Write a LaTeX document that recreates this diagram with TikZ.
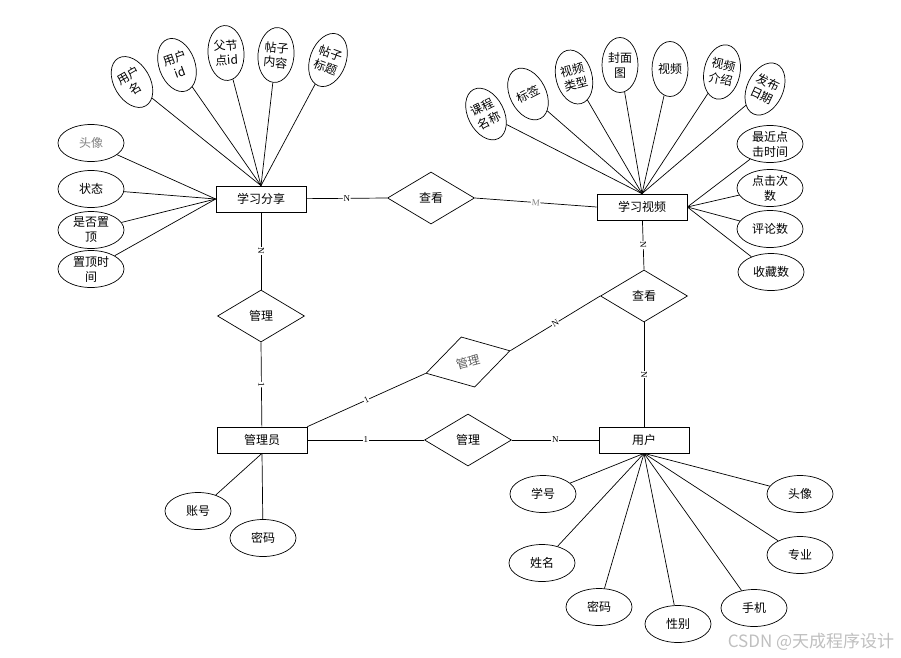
\documentclass[tikz,border=0pt]{standalone}
\usepackage{fontspec}
\setmainfont{Noto Sans CJK SC}
\newfontfamily\cardfont{Liberation Serif}
\usetikzlibrary{shapes.geometric}

\begin{document}
\begin{tikzpicture}[x=1pt, y=-1pt,
        line width=0.7pt,
        font=\fontsize{12}{15}\selectfont,
        ent/.style = {draw, minimum width=90pt, minimum height=26pt, inner sep=0pt},
        rel/.style = {draw, diamond, minimum width=87pt, minimum height=52pt, inner sep=0pt},
        attr/.style = {draw, ellipse, align=center, inner sep=0pt,
            minimum width=66pt, minimum height=37pt},
        vattr/.style = {draw, ellipse, align=center, inner sep=0pt,
            minimum width=36pt, minimum height=55pt},
        card/.style = {midway, sloped, fill=white, inner sep=0.6pt,
            font=\cardfont\fontsize{9}{9}\selectfont}]
    \useasboundingbox (0,0) rectangle (901,657);
    % entities
    \node[ent] (share) at (261,199) {学习分享};
    \node[ent] (video) at (642,207) {学习视频};
    \node[ent] (admin) at (262,440) {管理员};
    \node[ent] (user) at (644,440) {用户};
    % relations
    \node[rel] (look1) at (431,198) {查看};
    \node[rel] (look2) at (644,296) {查看};
    \node[rel] (mng1) at (261,316) {管理};
    \node[rel, rotate=15, text=gray!70!black] (mng2) at (468,362) {管理};
    \node[rel] (mng3) at (468,440) {管理};
    \path
        (share) edge node[card] {N} (look1.west)
        (look1.east) edge node[card, text=gray] {M} (video.west)
        (share) edge node[card] {N} (mng1.north)
        (mng1.south) edge node[card] {1} (admin)
        (admin.north east) edge node[card] {1} (mng2.west)
        (mng2.east) edge node[card] {N} (look2.west)
        (video) edge node[card] {N} (look2.north)
        (look2.south) edge node[card] {N} (user)
        (admin) edge node[card] {1} (mng3.west)
        (mng3.east) edge node[card] {N} (user);
    % attributes of share
    \node[vattr, rotate=30] (s1) at (132,82) {用户\\名};
    \node[vattr, rotate=20] (s2) at (177,65) {用户\\id};
    \node[vattr, rotate=4] (s3) at (226,53) {父节\\点id};
    \node[vattr, rotate=-5] (s4) at (276,55) {帖子\\内容};
    \node[vattr, rotate=-20] (s5) at (328,60) {帖子\\标题};
    \node[attr, text=gray] (s6) at (91,143) {头像};
    \node[attr] (s7) at (91,189) {状态};
    \node[attr] (s8) at (91,230) {是否置\\顶};
    \node[attr] (s9) at (91,269) {置顶时\\间};
    \foreach \a in {s1,s2,s3,s4,s5}
        \draw (share.north) -- (\a);
    \foreach \a in {s6,s7,s8,s9}
        \draw (share.west) -- (\a);
    % attributes of video
    \node[vattr, rotate=27] (v1) at (486,114) {课程\\名称};
    \node[vattr, rotate=27] (v2) at (528,94) {标签};
    \node[vattr, rotate=15] (v3) at (574,77) {视频\\类型};
    \node[vattr] (v4) at (620,65) {封面\\图};
    \node[vattr] (v5) at (670,69) {视频};
    \node[vattr, rotate=-12] (v6) at (722,72) {视频\\介绍};
    \node[vattr, rotate=-25] (v7) at (765,89) {发布\\日期};
    \node[attr] (v8) at (770,144) {最近点\\击时间};
    \node[attr] (v9) at (770,188) {点击次\\数};
    \node[attr] (v10) at (770,229) {评论数};
    \node[attr] (v11) at (771,272) {收藏数};
    \foreach \a in {v1,v2,v3,v4,v5,v6,v7}
        \draw (video.north) -- (\a);
    \foreach \a in {v8,v9,v10,v11}
        \draw (video.east) -- (\a);
    % attributes of admin
    \node[attr] (d1) at (198,511) {账号};
    \node[attr] (d2) at (263,538) {密码};
    \draw (admin.south) -- (d1);
    \draw (admin.south) -- (d2);
    % attributes of user
    \node[attr] (u1) at (543,494) {学号};
    \node[attr] (u2) at (542,563) {姓名};
    \node[attr] (u3) at (599,607) {密码};
    \node[attr] (u4) at (678,624) {性别};
    \node[attr] (u5) at (754,608) {手机};
    \node[attr] (u6) at (800,555) {专业};
    \node[attr] (u7) at (800,494) {头像};
    \foreach \a in {u1,u2,u3,u4,u5,u6,u7}
        \draw (user.south) -- (\a);
    \node[text=gray!50, font=\fontsize{17}{17}\selectfont] (mark) at (811,642) {CSDN @天成程序设计};
\end{tikzpicture}
\end{document}
